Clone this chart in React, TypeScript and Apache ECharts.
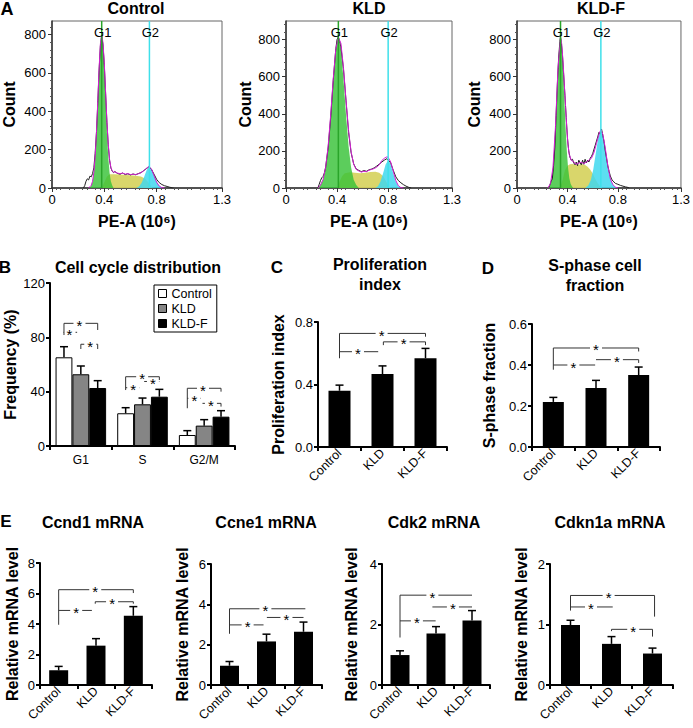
import React, { useEffect, useRef } from 'react';
import * as echarts from 'echarts';

type Pt = [number, number];

const FONT = '"Liberation Sans", Arial, Helvetica, sans-serif';

// ---------------- Panel A : DNA content histograms ----------------
const histTitles = ['Control', 'KLD', 'KLD-F'];
const histYMax = [870, 900, 900];
const histYTicks = [0, 200, 400, 600, 800];
const histXTicks = [0, 0.4, 0.8, 1.3];
const gateG1 = [0.38, 0.41, 0.345];
const gateG2 = [0.745, 0.8, 0.665];

const ctrlG1: Pt[] = [[0.29, 0], [0.30, 14], [0.31, 35], [0.32, 81], [0.33, 163], [0.34, 288], [0.35, 451], [0.36, 620], [0.37, 750], [0.38, 800], [0.39, 750], [0.40, 620], [0.41, 451], [0.42, 288], [0.43, 163], [0.44, 81], [0.45, 35], [0.46, 14], [0.47, 0]];
const ctrlS: Pt[] = [[0.38, 0], [0.40, 30], [0.42, 60], [0.44, 72], [0.48, 72], [0.52, 70], [0.56, 68], [0.60, 66], [0.64, 64], [0.68, 60], [0.71, 50], [0.73, 35], [0.75, 15], [0.77, 0]];
const ctrlG2: Pt[] = [[0.645, 0], [0.665, 8], [0.685, 26], [0.705, 58], [0.725, 95], [0.745, 112], [0.765, 95], [0.785, 58], [0.805, 26], [0.825, 8], [0.845, 0]];
const ctrlFit: Pt[] = [[0.28, 0], [0.30, 14], [0.31, 35], [0.32, 81], [0.33, 163], [0.34, 288], [0.35, 451], [0.36, 620], [0.37, 750], [0.38, 805], [0.39, 755], [0.40, 650], [0.41, 500], [0.42, 345], [0.43, 230], [0.44, 150], [0.45, 108], [0.46, 90], [0.47, 82], [0.48, 84], [0.50, 78], [0.52, 74], [0.54, 78], [0.56, 72], [0.58, 75], [0.60, 70], [0.62, 72], [0.64, 70], [0.66, 74], [0.68, 80], [0.70, 88], [0.72, 102], [0.74, 112], [0.76, 100], [0.78, 65], [0.80, 30], [0.82, 10], [0.84, 2], [0.86, 0]];
const ctrlRaw: Pt[] = [[0.24, 0], [0.25, 12], [0.26, 35], [0.27, 48], [0.28, 42], [0.29, 62], [0.30, 58], [0.31, 75], [0.32, 105], [0.33, 180], [0.34, 290], [0.35, 440], [0.36, 610], [0.37, 740], [0.38, 790], [0.39, 745], [0.40, 640], [0.41, 490], [0.42, 340], [0.43, 225], [0.44, 145], [0.45, 105], [0.46, 88], [0.47, 80], [0.48, 86], [0.50, 76], [0.52, 72], [0.54, 78], [0.56, 70], [0.58, 74], [0.60, 68], [0.62, 73], [0.64, 69], [0.66, 75], [0.68, 80], [0.70, 90], [0.72, 100], [0.74, 110], [0.76, 98], [0.78, 72], [0.80, 45], [0.82, 28], [0.84, 18], [0.86, 12], [0.88, 8], [0.90, 4], [0.92, 1], [0.93, 0]];

const kldG1: Pt[] = [[0.25, 0], [0.27, 16], [0.29, 45], [0.31, 110], [0.33, 225], [0.35, 394], [0.37, 588], [0.39, 748], [0.41, 810], [0.43, 748], [0.45, 588], [0.47, 394], [0.49, 225], [0.51, 110], [0.53, 45], [0.55, 16], [0.57, 0]];
const kldS: Pt[] = [[0.40, 0], [0.42, 35], [0.44, 65], [0.46, 80], [0.50, 85], [0.54, 82], [0.58, 80], [0.62, 82], [0.66, 86], [0.70, 88], [0.73, 82], [0.76, 65], [0.78, 40], [0.80, 15], [0.82, 0]];
const kldG2: Pt[] = [[0.70, 0], [0.72, 10], [0.74, 35], [0.76, 78], [0.78, 127], [0.80, 150], [0.82, 127], [0.84, 78], [0.86, 35], [0.88, 10], [0.90, 0]];
const kldFit: Pt[] = [[0.25, 0], [0.27, 16], [0.29, 45], [0.31, 110], [0.33, 225], [0.35, 394], [0.37, 588], [0.39, 748], [0.41, 812], [0.43, 780], [0.45, 650], [0.47, 474], [0.49, 310], [0.51, 195], [0.53, 128], [0.55, 100], [0.57, 92], [0.59, 86], [0.61, 90], [0.63, 88], [0.65, 96], [0.67, 100], [0.69, 105], [0.71, 112], [0.73, 125], [0.75, 148], [0.77, 160], [0.79, 168], [0.80, 165], [0.82, 140], [0.84, 90], [0.86, 40], [0.88, 12], [0.90, 2], [0.92, 0]];
const kldRaw: Pt[] = [[0.25, 0], [0.26, 20], [0.27, 40], [0.28, 55], [0.29, 62], [0.30, 80], [0.31, 110], [0.33, 215], [0.35, 380], [0.37, 580], [0.39, 750], [0.40, 800], [0.41, 815], [0.42, 790], [0.43, 760], [0.45, 640], [0.47, 470], [0.49, 300], [0.51, 190], [0.53, 130], [0.55, 102], [0.57, 95], [0.59, 88], [0.61, 94], [0.63, 90], [0.65, 98], [0.67, 102], [0.69, 108], [0.71, 118], [0.73, 128], [0.75, 140], [0.77, 150], [0.79, 158], [0.80, 150], [0.82, 135], [0.84, 95], [0.86, 60], [0.88, 40], [0.90, 28], [0.92, 18], [0.94, 10], [0.96, 4], [0.98, 0]];

const kldfG1: Pt[] = [[0.245, 0], [0.255, 9], [0.265, 23], [0.275, 53], [0.285, 108], [0.295, 200], [0.305, 329], [0.315, 485], [0.325, 641], [0.335, 757], [0.345, 800], [0.355, 757], [0.365, 641], [0.375, 485], [0.385, 329], [0.395, 200], [0.405, 108], [0.415, 53], [0.425, 23], [0.435, 9], [0.445, 0]];
const kldfS: Pt[] = [[0.34, 0], [0.36, 40], [0.38, 95], [0.40, 120], [0.42, 128], [0.44, 130], [0.46, 126], [0.48, 124], [0.50, 126], [0.52, 128], [0.54, 124], [0.56, 115], [0.58, 100], [0.60, 78], [0.62, 50], [0.64, 25], [0.66, 8], [0.67, 0]];
const kldfG2: Pt[] = [[0.545, 3], [0.565, 14], [0.585, 42], [0.605, 101], [0.625, 189], [0.645, 275], [0.665, 312], [0.685, 275], [0.705, 189], [0.725, 101], [0.745, 42], [0.765, 14], [0.785, 3], [0.80, 0]];
const kldfFit: Pt[] = [[0.245, 0], [0.265, 23], [0.285, 108], [0.305, 330], [0.325, 645], [0.345, 810], [0.355, 775], [0.365, 680], [0.375, 560], [0.385, 440], [0.395, 320], [0.405, 228], [0.415, 180], [0.43, 150], [0.45, 140], [0.47, 128], [0.49, 135], [0.51, 138], [0.53, 132], [0.55, 140], [0.57, 150], [0.59, 160], [0.61, 190], [0.63, 240], [0.65, 290], [0.665, 315], [0.68, 290], [0.70, 215], [0.72, 120], [0.74, 50], [0.76, 18], [0.78, 5], [0.80, 0]];
const kldfRaw: Pt[] = [[0.25, 0], [0.26, 15], [0.27, 35], [0.28, 50], [0.29, 120], [0.30, 220], [0.31, 390], [0.32, 560], [0.33, 700], [0.34, 790], [0.345, 815], [0.35, 790], [0.36, 720], [0.37, 610], [0.38, 500], [0.39, 380], [0.40, 270], [0.41, 200], [0.42, 165], [0.43, 150], [0.44, 155], [0.45, 135], [0.46, 125], [0.47, 140], [0.48, 120], [0.49, 150], [0.50, 135], [0.51, 125], [0.52, 150], [0.53, 128], [0.54, 155], [0.55, 135], [0.56, 150], [0.57, 140], [0.58, 160], [0.59, 170], [0.60, 185], [0.62, 230], [0.64, 275], [0.65, 300], [0.66, 290], [0.67, 318], [0.68, 285], [0.69, 250], [0.70, 200], [0.71, 160], [0.72, 120], [0.73, 90], [0.74, 65], [0.75, 48], [0.76, 38], [0.78, 25], [0.80, 20], [0.82, 14], [0.84, 10], [0.86, 6], [0.88, 3], [0.89, 0]];

const histG1 = [ctrlG1, kldG1, kldfG1];
const histS = [ctrlS, kldS, kldfS];
const histG2 = [ctrlG2, kldG2, kldfG2];
const histFit = [ctrlFit, kldFit, kldfFit];
const histRaw = [ctrlRaw, kldRaw, kldfRaw];

// ---------------- Panel B : cell cycle distribution ----------------
const treatments = ['Control', 'KLD', 'KLD-F'];
const phases = ['G1', 'S', 'G2/M'];
const freqControl = [65.3, 24.1, 8.1];
const freqKLD = [52.8, 30.7, 15.0];
const freqKLDF = [42.7, 36.3, 21.6];
const freqErrControl = [7.8, 4.1, 3.2];
const freqErrKLD = [6.1, 4.6, 4.4];
const freqErrKLDF = [5.4, 5.4, 4.4];
// [phase, fromBar, toBar, y, leftDropTo, rightDropTo, starBar]
const freqBrackets = [
  [0, 0, 2, 90.3, 81.7, 85.4, 0.92],
  [0, 0, 0.78, 83.7, 83.7, 83.7, 0.33],
  [0, 1, 2, 74.9, 71.4, 71.4, 1.56],
  [1, 0, 2, 51.0, 41.2, 48.6, 0.98],
  [1, 0, 0.82, 42.9, 42.9, 42.9, 0.45],
  [1, 1.1, 2, 47.5, 47.5, 47.5, 1.62],
  [2, 0, 2, 42.5, 27.8, 40.0, 0.93],
  [2, 0, 0.8, 35.1, 35.1, 35.1, 0.42],
  [2, 0.9, 2, 31.4, 31.4, 29.0, 1.4],
];

// ---------------- Panel C : proliferation index ----------------
const profIndex = [0.36, 0.467, 0.568];
const profErr = [0.036, 0.052, 0.063];
// [from, to, y, leftDropTo, rightDropTo, starX]
const profBrackets = [[0, 2, 0.727, 0.568, 0.706, 0.98], [0, 0.9, 0.61, 0.61, 0.61, 0.43], [1.02, 2, 0.673, 0.652, 0.652, 1.49]];

// ---------------- Panel D : S-phase fraction ----------------
const sFrac = [0.22, 0.288, 0.351];
const sFracErr = [0.022, 0.037, 0.039];
const sFracBrackets = [[0, 2, 0.483, 0.377, 0.466, 1.0], [0, 0.98, 0.40, 0.40, 0.40, 0.47], [1.0, 2, 0.426, 0.426, 0.41, 1.49]];

// ---------------- Panel E : mRNA levels ----------------
const mrnaTitles = ['Ccnd1 mRNA', 'Ccne1 mRNA', 'Cdk2 mRNA', 'Cdkn1a mRNA'];
const mrnaMax = [8, 6, 4, 2];
const mrnaInterval = [2, 2, 2, 1];
const ccnd1 = [0.96, 2.58, 4.54];
const ccnd1Err = [0.26, 0.46, 0.6];
const ccne1 = [0.955, 2.16, 2.64];
const ccne1Err = [0.21, 0.36, 0.48];
const cdk2 = [0.99, 1.7, 2.13];
const cdk2Err = [0.14, 0.23, 0.33];
const cdkn1a = [0.99, 0.68, 0.52];
const cdkn1aErr = [0.08, 0.12, 0.09];
const ccnd1Brackets = [[0, 2, 6.25, 3.95, 6.03, 0.98], [0, 0.89, 4.89, 4.89, 4.89, 0.47], [0.98, 2, 5.46, 5.33, 5.33, 1.43]];
const ccne1Brackets = [[0, 2.05, 3.78, 2.54, 3.78, 0.97], [0, 0.92, 2.98, 2.98, 2.98, 0.49], [1.01, 2, 3.35, 3.35, 3.35, 1.54]];
const cdk2Brackets = [[0, 2, 2.97, 1.57, 2.97, 0.9], [0, 0.99, 2.12, 2.12, 2.12, 0.47], [0.9, 2, 2.58, 2.58, 2.58, 1.47]];
const cdkn1aBrackets = [[0, 2.05, 1.48, 1.23, 1.13, 0.93], [0, 1.03, 1.29, 1.29, 1.29, 0.5], [1.0, 2, 0.92, 0.89, 0.8, 1.53]];

const mrnaVals = [ccnd1, ccne1, cdk2, cdkn1a];
const mrnaErrs = [ccnd1Err, ccne1Err, cdk2Err, cdkn1aErr];
const mrnaBrackets = [ccnd1Brackets, ccne1Brackets, cdk2Brackets, cdkn1aBrackets];

const BAR_CAT_GAP = 0.18;
const BAR_FRAC = (1 - BAR_CAT_GAP) / 3;

function drawBracket(px1: number, px2: number, py: number, pd1: number, pd2: number, ps: number) {
  const gap = 6;
  const st = { stroke: '#333', lineWidth: 1 };
  const children: any[] = [
    { type: 'line', shape: { x1: px1, y1: py, x2: ps - gap, y2: py }, style: st },
    { type: 'line', shape: { x1: ps + gap, y1: py, x2: px2, y2: py }, style: st },
    { type: 'text', style: { text: '*', x: ps, y: py + 2, textAlign: 'center', textVerticalAlign: 'middle', font: `15px ${FONT}`, fill: '#000' } },
  ];
  if (Math.abs(pd1 - py) > 0.5) children.push({ type: 'line', shape: { x1: px1, y1: py, x2: px1, y2: pd1 }, style: st });
  if (Math.abs(pd2 - py) > 0.5) children.push({ type: 'line', shape: { x1: px2, y1: py, x2: px2, y2: pd2 }, style: st });
  return { type: 'group', children };
}

const bracketItem = (params: any, api: any) => {
  const w = api.size([1, 0])[0];
  const o = api.coord([0, api.value(2)]);
  const X = (v: number) => o[0] + v * w;
  return drawBracket(X(api.value(0)), X(api.value(1)), o[1], api.coord([0, api.value(3)])[1], api.coord([0, api.value(4)])[1], X(api.value(5)));
};

const freqBracketItem = (params: any, api: any) => {
  const w = api.size([1, 0])[0];
  const o = api.coord([api.value(0), api.value(3)]);
  const X = (k: number) => o[0] + (k - 1) * BAR_FRAC * w;
  return drawBracket(X(api.value(1)), X(api.value(2)), o[1], api.coord([0, api.value(4)])[1], api.coord([0, api.value(5)])[1], X(api.value(6)));
};

const errItem = (offset: number) => (params: any, api: any) => {
  const i = api.value(0), v = api.value(1), e = api.value(2);
  const w = api.size([1, 0])[0];
  const b = api.coord([i, v]);
  const t = api.coord([i, v + e]);
  const x = b[0] + offset * w;
  const st = { stroke: '#000', lineWidth: 1.5 };
  return {
    type: 'group',
    children: [
      { type: 'line', shape: { x1: x, y1: b[1], x2: x, y2: t[1] }, style: st },
      { type: 'line', shape: { x1: x - 4, y1: t[1], x2: x + 4, y2: t[1] }, style: st },
    ],
  };
};

const gateItem = (yMax: number, color: string, label: string) => (params: any, api: any) => {
  const x = api.value(0);
  const b = api.coord([x, 0]);
  const t = api.coord([x, yMax]);
  return {
    type: 'group',
    children: [
      { type: 'line', shape: { x1: b[0], y1: b[1], x2: t[0], y2: t[1] }, style: { stroke: color, lineWidth: 1.5 } },
      { type: 'text', style: { text: label, x: t[0] + 1, y: t[1] + 11, textAlign: 'center', textVerticalAlign: 'middle', font: `13px ${FONT}`, fill: '#000' } },
    ],
  };
};

const txt = (text: string, x: number, y: number, size: number, bold = true) => ({
  type: 'text', x, y, silent: true,
  style: { text, textAlign: 'center', textVerticalAlign: 'middle', font: `${bold ? 'bold ' : ''}${size}px ${FONT}`, fill: '#000' },
});

function buildOption() {
  const grid: any[] = [
    { left: 52, top: 21, width: 170, height: 167, show: true, borderColor: '#666', borderWidth: 1 },
    { left: 286, top: 21, width: 166, height: 167, show: true, borderColor: '#666', borderWidth: 1 },
    { left: 517, top: 21, width: 169, height: 167, show: true, borderColor: '#666', borderWidth: 1 },
    { left: 50, top: 283, width: 185, height: 163 },
    { left: 318, top: 322, width: 129, height: 125 },
    { left: 532, top: 324, width: 128, height: 123 },
    { left: 40, top: 563, width: 112, height: 122 },
    { left: 211, top: 564, width: 111, height: 121 },
    { left: 382, top: 564, width: 108, height: 121 },
    { left: 550, top: 564, width: 123, height: 121 },
  ];
  const xAxis: any[] = [];
  const yAxis: any[] = [];
  const series: any[] = [];
  const nameStyle = { fontSize: 16, fontWeight: 'bold', color: '#000', fontFamily: FONT };
  const countGaps = [35, 33, 35];

  // Panel A
  for (let i = 0; i < 3; i++) {
    xAxis.push({
      type: 'value', gridIndex: i, min: 0, max: 1.3, interval: 0.1,
      name: 'PE-A (10⁶)', nameLocation: 'middle', nameGap: 25, nameTextStyle: nameStyle,
      axisLine: { lineStyle: { color: '#333', width: 1.5 } },
      axisTick: { show: true, length: 4, customValues: histXTicks, lineStyle: { color: '#333' } },
      minorTick: { show: true, splitNumber: 3, length: 2, lineStyle: { color: '#555' } },
      axisLabel: { customValues: histXTicks, color: '#000', fontSize: 13, margin: 5, formatter: (v: number) => String(v) },
      splitLine: { show: false },
    });
    yAxis.push({
      type: 'value', gridIndex: i, min: 0, max: histYMax[i], interval: 200,
      name: 'Count', nameLocation: 'middle', nameGap: countGaps[i], nameRotate: 90, nameTextStyle: nameStyle,
      axisLine: { show: true, lineStyle: { color: '#333', width: 1.5 } },
      axisTick: { show: true, length: 4, customValues: histYTicks, lineStyle: { color: '#333' } },
      minorTick: { show: true, splitNumber: 5, length: 2, lineStyle: { color: '#555' } },
      axisLabel: { customValues: histYTicks, color: '#000', fontSize: 13, margin: 6 },
      splitLine: { show: false },
    });
    const base = { type: 'line', xAxisIndex: i, yAxisIndex: i, symbol: 'none', silent: true };
    series.push({ ...base, name: `${histTitles[i]} S`, data: histS[i], lineStyle: { width: 0 }, areaStyle: { color: '#d6d35e', opacity: 0.92 }, z: 1 });
    series.push({ ...base, name: `${histTitles[i]} G1`, data: histG1[i], lineStyle: { width: 0 }, areaStyle: { color: '#38c238', opacity: 0.82 }, z: 2 });
    series.push({ ...base, name: `${histTitles[i]} G2`, data: histG2[i], lineStyle: { width: 0 }, areaStyle: { color: '#3fd8ee', opacity: 0.85 }, z: 2 });
    series.push({ ...base, name: `${histTitles[i]} data`, data: histRaw[i], lineStyle: { width: 1, color: '#222' }, z: 3 });
    series.push({ ...base, name: `${histTitles[i]} fit`, data: histFit[i], lineStyle: { width: 1, color: '#d41fd4' }, z: 4 });
    series.push({ type: 'custom', name: `${histTitles[i]} G1 gate`, xAxisIndex: i, yAxisIndex: i, data: [[gateG1[i], 0]], renderItem: gateItem(histYMax[i], '#2aa52a', 'G1'), z: 5, silent: true });
    series.push({ type: 'custom', name: `${histTitles[i]} G2 gate`, xAxisIndex: i, yAxisIndex: i, data: [[gateG2[i], 0]], renderItem: gateItem(histYMax[i], '#3fe0ea', 'G2'), z: 5, silent: true });
  }

  const barX = (gi: number, data: string[], rotate: number) => ({
    type: 'category', gridIndex: gi, data,
    axisLine: { lineStyle: { color: '#000', width: 2 } },
    axisTick: { show: true, length: 4, lineStyle: { width: 2, color: '#000' } },
    axisLabel: { color: '#000', fontSize: rotate ? 12.5 : 12, rotate, margin: rotate ? 4 : 8, interval: 0, fontFamily: FONT },
    splitLine: { show: false },
  });
  const barY = (gi: number, max: number, interval: number, name: string, nameGap: number, fmt?: (v: number) => string) => ({
    type: 'value', gridIndex: gi, min: 0, max, interval,
    name, nameLocation: 'middle', nameGap, nameRotate: 90, nameTextStyle: nameStyle,
    axisLine: { show: true, lineStyle: { color: '#000', width: 2 } },
    axisTick: { show: true, length: 4, lineStyle: { width: 2, color: '#000' } },
    axisLabel: { color: '#000', fontSize: 13, margin: 5, formatter: fmt },
    splitLine: { show: false },
  });

  // Panel B
  xAxis.push(barX(3, phases, 0));
  yAxis.push(barY(3, 120, 40, 'Frequency (%)', 32));
  const freqVals = [freqControl, freqKLD, freqKLDF];
  const freqErrs = [freqErrControl, freqErrKLD, freqErrKLDF];
  const fills = ['#ffffff', '#858585', '#000000'];
  treatments.forEach((t, k) => {
    series.push({
      type: 'bar', name: t, xAxisIndex: 3, yAxisIndex: 3, data: freqVals[k],
      barGap: '0%', barCategoryGap: `${BAR_CAT_GAP * 100}%`,
      itemStyle: { color: fills[k], borderColor: '#000', borderWidth: 1 }, z: 2,
    });
  });
  treatments.forEach((t, k) => {
    series.push({
      type: 'custom', name: `${t} error`, xAxisIndex: 3, yAxisIndex: 3,
      data: freqVals[k].map((v, i) => [i, v, freqErrs[k][i]]),
      renderItem: errItem((k - 1) * BAR_FRAC), z: 5, silent: true,
    });
  });
  series.push({ type: 'custom', name: 'freq significance', xAxisIndex: 3, yAxisIndex: 3, data: freqBrackets, renderItem: freqBracketItem, z: 6, silent: true });

  // Panels C, D, E
  const simple = [
    { gi: 4, vals: profIndex, errs: profErr, br: profBrackets, max: 0.8, interval: 0.4, name: 'Proliferation index', gap: 32, bw: 22, fmt: (v: number) => v.toFixed(1) },
    { gi: 5, vals: sFrac, errs: sFracErr, br: sFracBrackets, max: 0.6, interval: 0.2, name: 'S-phase fraction', gap: 35, bw: 21, fmt: (v: number) => v.toFixed(1) },
  ];
  const eGaps = [20, 21, 23, 21];
  mrnaTitles.forEach((t, j) => {
    simple.push({ gi: 6 + j, vals: mrnaVals[j], errs: mrnaErrs[j], br: mrnaBrackets[j], max: mrnaMax[j], interval: mrnaInterval[j], name: 'Relative mRNA level', gap: eGaps[j], bw: 19, fmt: undefined as any });
  });
  simple.forEach((p, idx) => {
    xAxis.push(barX(p.gi, treatments, 45));
    yAxis.push(barY(p.gi, p.max, p.interval, p.name, p.gap, p.fmt));
    series.push({ type: 'bar', name: `${p.name} ${idx}`, xAxisIndex: p.gi, yAxisIndex: p.gi, data: p.vals, barWidth: p.bw, itemStyle: { color: '#000' }, z: 2 });
    series.push({ type: 'custom', name: `${p.name} ${idx} error`, xAxisIndex: p.gi, yAxisIndex: p.gi, data: p.vals.map((v, i) => [i, v, p.errs[i]]), renderItem: errItem(0), z: 5, silent: true });
    series.push({ type: 'custom', name: `${p.name} ${idx} significance`, xAxisIndex: p.gi, yAxisIndex: p.gi, data: p.br, renderItem: bracketItem, z: 6, silent: true });
  });

  const graphic: any[] = [
    txt('A', 7, 9, 18),
    txt(histTitles[0], 136, 8, 16), txt(histTitles[1], 369, 8, 16), txt(histTitles[2], 601, 8, 16),
    txt('B', 5, 267, 17), txt('Cell cycle distribution', 138, 267, 16),
    txt('C', 277, 267, 17), txt('Proliferation', 380, 264, 16), txt('index', 380, 284, 16),
    txt('D', 488, 268, 17), txt('S-phase cell', 595, 265, 16), txt('fraction', 595, 285, 16),
    txt('E', 6, 521, 17),
    txt(mrnaTitles[0], 93, 522, 16), txt(mrnaTitles[1], 266, 522, 16), txt(mrnaTitles[2], 434, 522, 16), txt(mrnaTitles[3], 610, 522, 16),
  ];

  return {
    animation: false,
    backgroundColor: '#ffffff',
    textStyle: { fontFamily: FONT },
    grid, xAxis, yAxis, series, graphic,
    legend: {
      data: treatments, orient: 'vertical', left: 154, top: 285,
      itemWidth: 8, itemHeight: 8, itemGap: 2, padding: [2, 5, 2, 4],
      borderColor: '#000', borderWidth: 1, selectedMode: false, icon: 'rect',
      itemStyle: { borderColor: '#000', borderWidth: 1 },
      textStyle: { fontSize: 12.5, color: '#000', fontFamily: FONT, lineHeight: 10 },
    },
  };
}

export default function App() {
  const ref = useRef<HTMLDivElement>(null);
  useEffect(() => {
    document.body.style.margin = '0';
    if (!ref.current) return;
    const chart = echarts.init(ref.current, undefined, { renderer: 'svg' });
    chart.setOption(buildOption() as any);
    return () => chart.dispose();
  }, []);
  return <div ref={ref} style={{ width: 693, height: 728 }} />;
}
